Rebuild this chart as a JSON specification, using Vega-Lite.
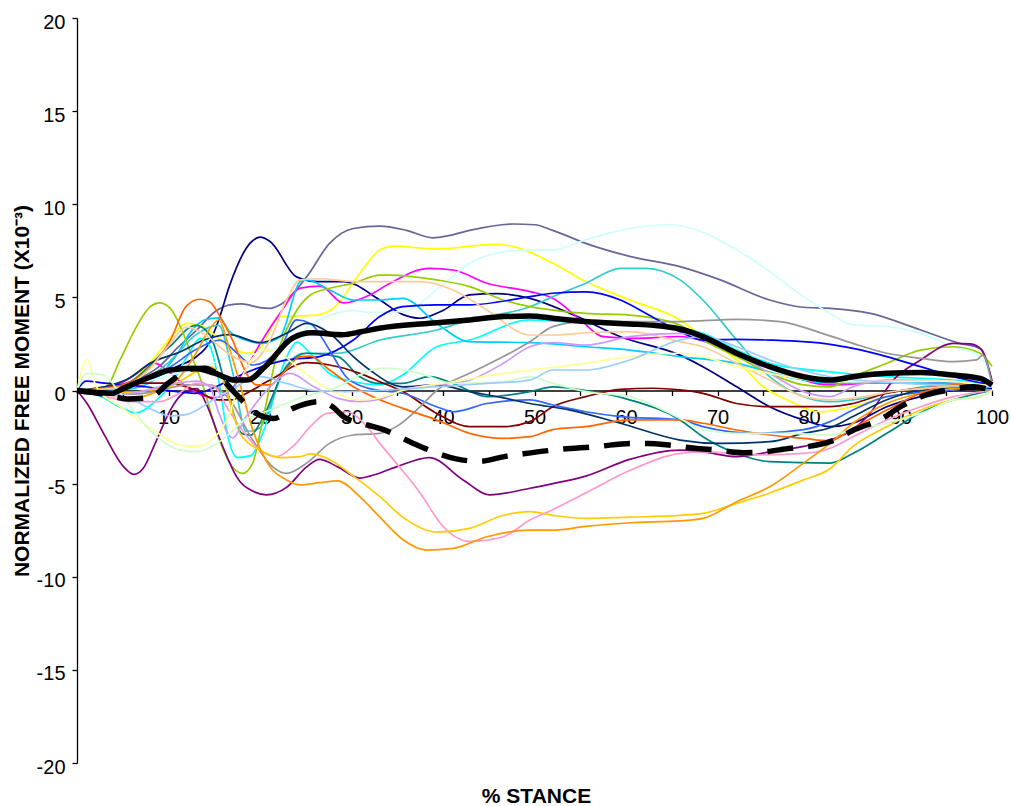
{
"$schema":"https://vega.github.io/schema/vega-lite/v6.json",
"width":915,"height":745,"autosize":"none",
"padding":{"left":77,"top":18,"right":19,"bottom":43},
"background":"white",
"config":{"view":{"stroke":null},"font":"Liberation Sans"},
"datasets":{
"thin":[
{"s":"A","x":0,"y":0},{"s":"A","x":3,"y":0.2},{"s":"A","x":6,"y":0.5},{"s":"A","x":9,"y":1.3},{"s":"A","x":11,"y":2.3},{"s":"A","x":13.1,"y":3.25},{"s":"A","x":15,"y":4.2},{"s":"A","x":16.7,"y":4.6},{"s":"A","x":18,"y":4.65},{"s":"A","x":20,"y":4.45},{"s":"A","x":21.1,"y":4.41},{"s":"A","x":22.2,"y":4.6},{"s":"A","x":25.1,"y":6.1},{"s":"A","x":27.6,"y":7.9},{"s":"A","x":30.2,"y":8.7},{"s":"A","x":33.1,"y":8.83},{"s":"A","x":36,"y":8.6},{"s":"A","x":38.9,"y":8.2},{"s":"A","x":40.5,"y":8.3},{"s":"A","x":42.9,"y":8.6},{"s":"A","x":47.7,"y":8.94},{"s":"A","x":50,"y":8.9},{"s":"A","x":52,"y":8.6},{"s":"A","x":55.6,"y":7.9},{"s":"A","x":60.4,"y":7.2},{"s":"A","x":65.9,"y":6.65},{"s":"A","x":70.3,"y":5.94},{"s":"A","x":75.7,"y":4.86},{"s":"A","x":79.4,"y":4.47},{"s":"A","x":82.3,"y":4.41},{"s":"A","x":86.7,"y":4.14},{"s":"A","x":92.2,"y":3.25},{"s":"A","x":96.5,"y":2.53},{"s":"A","x":98.7,"y":2.26},{"s":"A","x":100,"y":0.5},
{"s":"B","x":0,"y":0},{"s":"B","x":3,"y":0.1},{"s":"B","x":6,"y":0.3},{"s":"B","x":9,"y":0.8},{"s":"B","x":11,"y":1.3},{"s":"B","x":13,"y":1.8},{"s":"B","x":14.5,"y":2.6},{"s":"B","x":15.5,"y":3.8},{"s":"B","x":16.7,"y":5.67},{"s":"B","x":18.9,"y":7.9},{"s":"B","x":20,"y":8.23},{"s":"B","x":21.1,"y":8.0},{"s":"B","x":24,"y":6.1},{"s":"B","x":26.2,"y":5.85},{"s":"B","x":29.1,"y":5.85},{"s":"B","x":33.1,"y":4.86},{"s":"B","x":35.5,"y":4.1},{"s":"B","x":37.5,"y":3.88},{"s":"B","x":40,"y":4.3},{"s":"B","x":42.9,"y":5.13},{"s":"B","x":45.9,"y":5.2},{"s":"B","x":49.5,"y":4.95},{"s":"B","x":53.9,"y":4.14},{"s":"B","x":59.4,"y":2.89},{"s":"B","x":65.9,"y":1.9},{"s":"B","x":68.4,"y":1.28},{"s":"B","x":72.1,"y":0.2},{"s":"B","x":75.7,"y":-0.87},{"s":"B","x":79.4,"y":-1.58},{"s":"B","x":82.3,"y":-1.94},{"s":"B","x":84.8,"y":-1.76},{"s":"B","x":88.5,"y":-0.87},{"s":"B","x":92.2,"y":-0.33},{"s":"B","x":95.8,"y":0},{"s":"B","x":100,"y":0.1},
{"s":"C","x":0,"y":0},{"s":"C","x":3,"y":0},{"s":"C","x":6,"y":0.5},{"s":"C","x":8.5,"y":1.8},{"s":"C","x":10.5,"y":3.0},{"s":"C","x":12,"y":3.6},{"s":"C","x":13.5,"y":3.5},{"s":"C","x":15,"y":3.0},{"s":"C","x":16.5,"y":2.4},{"s":"C","x":18.6,"y":2.0},{"s":"C","x":20,"y":2.3},{"s":"C","x":22.2,"y":3.96},{"s":"C","x":26.2,"y":4.05},{"s":"C","x":28.2,"y":4.5},{"s":"C","x":30.9,"y":6.3},{"s":"C","x":33.1,"y":7.55},{"s":"C","x":34.5,"y":7.75},{"s":"C","x":39.3,"y":7.6},{"s":"C","x":45.9,"y":7.85},{"s":"C","x":48.4,"y":7.63},{"s":"C","x":52,"y":6.83},{"s":"C","x":55.6,"y":5.85},{"s":"C","x":60.4,"y":4.86},{"s":"C","x":65.9,"y":3.79},{"s":"C","x":68.4,"y":2.89},{"s":"C","x":72.1,"y":1.64},{"s":"C","x":75,"y":0.2},{"s":"C","x":77.6,"y":-0.5},{"s":"C","x":81.2,"y":-1.14},{"s":"C","x":84.8,"y":-0.87},{"s":"C","x":88.5,"y":-0.33},{"s":"C","x":95,"y":0},{"s":"C","x":100,"y":0.2},
{"s":"D","x":0,"y":0},{"s":"D","x":2.5,"y":0.1},{"s":"D","x":4.7,"y":0.38},{"s":"D","x":6.5,"y":0.9},{"s":"D","x":8.3,"y":1.5},{"s":"D","x":10.2,"y":0.94},{"s":"D","x":12,"y":0.2},{"s":"D","x":15,"y":-0.4},{"s":"D","x":17.1,"y":0.2},{"s":"D","x":18.6,"y":1.28},{"s":"D","x":20,"y":2.5},{"s":"D","x":22.2,"y":4.16},{"s":"D","x":24.4,"y":5.5},{"s":"D","x":26.6,"y":5.6},{"s":"D","x":29.1,"y":4.7},{"s":"D","x":32,"y":5.13},{"s":"D","x":34.2,"y":5.76},{"s":"D","x":38.5,"y":6.56},{"s":"D","x":41.1,"y":6.47},{"s":"D","x":44.8,"y":5.76},{"s":"D","x":49.5,"y":5.31},{"s":"D","x":52,"y":4.95},{"s":"D","x":55,"y":3.8},{"s":"D","x":57.5,"y":2.89},{"s":"D","x":61.1,"y":2.8},{"s":"D","x":65.9,"y":2.9},{"s":"D","x":70.3,"y":2.35},{"s":"D","x":75.7,"y":1.28},{"s":"D","x":82.3,"y":0.3},{"s":"D","x":90,"y":0.5},{"s":"D","x":100,"y":0.2},
{"s":"E","x":0,"y":0},{"s":"E","x":2.5,"y":-0.3},{"s":"E","x":4.7,"y":-0.9},{"s":"E","x":6.5,"y":-1.2},{"s":"E","x":8.5,"y":-0.6},{"s":"E","x":10.5,"y":0.5},{"s":"E","x":12,"y":1.8},{"s":"E","x":13.5,"y":2.8},{"s":"E","x":14.5,"y":2.4},{"s":"E","x":15.5,"y":0.5},{"s":"E","x":16.5,"y":-2.5},{"s":"E","x":17.5,"y":-3.6},{"s":"E","x":19,"y":-3.5},{"s":"E","x":20.3,"y":-2.3},{"s":"E","x":22.9,"y":1.8},{"s":"E","x":24,"y":2.6},{"s":"E","x":25.5,"y":2.0},{"s":"E","x":27.6,"y":0.9},{"s":"E","x":30.2,"y":0.47},{"s":"E","x":33.1,"y":0.3},{"s":"E","x":35.6,"y":0.83},{"s":"E","x":39.3,"y":2.35},{"s":"E","x":42.9,"y":2.71},{"s":"E","x":49.5,"y":3.79},{"s":"E","x":55.6,"y":3.6},{"s":"E","x":65.9,"y":3.34},{"s":"E","x":68.4,"y":3.07},{"s":"E","x":72.1,"y":2.17},{"s":"E","x":75.7,"y":1.46},{"s":"E","x":82.3,"y":1.0},{"s":"E","x":88.5,"y":0.74},{"s":"E","x":95.8,"y":0.56},{"s":"E","x":100,"y":0.3},
{"s":"F","x":0,"y":0},{"s":"F","x":3,"y":0},{"s":"F","x":6,"y":0.1},{"s":"F","x":9,"y":0.8},{"s":"F","x":11,"y":2.0},{"s":"F","x":12.5,"y":3.2},{"s":"F","x":14,"y":3.8},{"s":"F","x":15.5,"y":3.9},{"s":"F","x":16.7,"y":3.16},{"s":"F","x":18.5,"y":2.7},{"s":"F","x":20,"y":2.53},{"s":"F","x":22.2,"y":2.89},{"s":"F","x":24.4,"y":5.85},{"s":"F","x":25.1,"y":5.94},{"s":"F","x":27.6,"y":5.4},{"s":"F","x":30.2,"y":4.86},{"s":"F","x":33.1,"y":4.86},{"s":"F","x":35.6,"y":4.95},{"s":"F","x":39.3,"y":3.6},{"s":"F","x":42.9,"y":2.62},{"s":"F","x":49.5,"y":2.57},{"s":"F","x":55.6,"y":2.35},{"s":"F","x":60.4,"y":2.17},{"s":"F","x":65.9,"y":1.82},{"s":"F","x":72.1,"y":1.46},{"s":"F","x":77.6,"y":0.74},{"s":"F","x":82.3,"y":0.38},{"s":"F","x":90,"y":0.4},{"s":"F","x":95,"y":0.4},{"s":"F","x":100,"y":0},
{"s":"G","x":0,"y":0},{"s":"G","x":5,"y":0.2},{"s":"G","x":10,"y":0.8},{"s":"G","x":15,"y":1.5},{"s":"G","x":16.7,"y":1.82},{"s":"G","x":20,"y":2.0},{"s":"G","x":22.2,"y":2.35},{"s":"G","x":26.5,"y":3.8},{"s":"G","x":30.2,"y":4.3},{"s":"G","x":32,"y":4.2},{"s":"G","x":35.6,"y":4.23},{"s":"G","x":39.3,"y":5.4},{"s":"G","x":42.9,"y":6.83},{"s":"G","x":46.6,"y":7.45},{"s":"G","x":49.5,"y":7.55},{"s":"G","x":52,"y":7.55},{"s":"G","x":55.6,"y":8.1},{"s":"G","x":60.4,"y":8.7},{"s":"G","x":64.8,"y":8.9},{"s":"G","x":68.4,"y":8.5},{"s":"G","x":72.1,"y":7.55},{"s":"G","x":75.7,"y":6.38},{"s":"G","x":79.4,"y":5.04},{"s":"G","x":82.3,"y":4.14},{"s":"G","x":84.8,"y":3.52},{"s":"G","x":88.5,"y":3.43},{"s":"G","x":92.2,"y":3.07},{"s":"G","x":95.8,"y":2.35},{"s":"G","x":98.7,"y":1.82},{"s":"G","x":100,"y":0.5},
{"s":"H","x":0,"y":0},{"s":"H","x":5,"y":0.2},{"s":"H","x":10,"y":1.5},{"s":"H","x":13,"y":3.0},{"s":"H","x":15.5,"y":3.5},{"s":"H","x":17,"y":1.0},{"s":"H","x":18.5,"y":-2.2},{"s":"H","x":20,"y":-2.0},{"s":"H","x":21,"y":-1},{"s":"H","x":22.5,"y":1.0},{"s":"H","x":24.8,"y":2.0},{"s":"H","x":28.5,"y":2.0},{"s":"H","x":33.1,"y":2.71},{"s":"H","x":39.3,"y":3.25},{"s":"H","x":42.9,"y":3.79},{"s":"H","x":49.5,"y":4.5},{"s":"H","x":52,"y":5.04},{"s":"H","x":55.6,"y":5.76},{"s":"H","x":59.4,"y":6.56},{"s":"H","x":62.2,"y":6.56},{"s":"H","x":65.9,"y":5.94},{"s":"H","x":68.4,"y":4.86},{"s":"H","x":72.1,"y":2.71},{"s":"H","x":75.7,"y":0.74},{"s":"H","x":79.4,"y":-0.33},{"s":"H","x":82.3,"y":-0.6},{"s":"H","x":84.8,"y":-0.5},{"s":"H","x":88.5,"y":-0.15},{"s":"H","x":95,"y":0.3},{"s":"H","x":100,"y":0.3},
{"s":"I","x":0,"y":0},{"s":"I","x":5,"y":0.3},{"s":"I","x":10,"y":2.3},{"s":"I","x":13,"y":3.5},{"s":"I","x":14.5,"y":3.0},{"s":"I","x":16.4,"y":0},{"s":"I","x":18,"y":-2.3},{"s":"I","x":19,"y":-2.4},{"s":"I","x":20,"y":-1.76},{"s":"I","x":22.9,"y":1.28},{"s":"I","x":25.1,"y":2.0},{"s":"I","x":28.5,"y":1.82},{"s":"I","x":30.9,"y":0.74},{"s":"I","x":33.1,"y":0.38},{"s":"I","x":35.6,"y":0.38},{"s":"I","x":38.5,"y":0.74},{"s":"I","x":41.1,"y":0.38},{"s":"I","x":44.8,"y":-0.33},{"s":"I","x":49.5,"y":-0.06},{"s":"I","x":52,"y":0.2},{"s":"I","x":55.6,"y":0},{"s":"I","x":60.4,"y":-0.5},{"s":"I","x":65.9,"y":-1.58},{"s":"I","x":68.4,"y":-2.48},{"s":"I","x":72.1,"y":-3.38},{"s":"I","x":75.7,"y":-3.82},{"s":"I","x":82.3,"y":-3.9},{"s":"I","x":84.8,"y":-3.38},{"s":"I","x":88.5,"y":-2.3},{"s":"I","x":92.2,"y":-1.2},{"s":"I","x":95.8,"y":-0.5},{"s":"I","x":100,"y":0},
{"s":"J","x":0,"y":0},{"s":"J","x":2,"y":0.1},{"s":"J","x":3.2,"y":0.2},{"s":"J","x":4.7,"y":1.64},{"s":"J","x":6.5,"y":3.43},{"s":"J","x":8,"y":4.5},{"s":"J","x":9,"y":4.7},{"s":"J","x":10.2,"y":4.41},{"s":"J","x":11.3,"y":3.43},{"s":"J","x":12.7,"y":1.64},{"s":"J","x":13.8,"y":0.2},{"s":"J","x":15.3,"y":-2.3},{"s":"J","x":16.7,"y":-3.9},{"s":"J","x":18.1,"y":-4.45},{"s":"J","x":19.2,"y":-3.9},{"s":"J","x":20.3,"y":-1.58},{"s":"J","x":21.8,"y":1.82},{"s":"J","x":23.6,"y":3.96},{"s":"J","x":25.5,"y":5.13},{"s":"J","x":27.6,"y":5.49},{"s":"J","x":30.2,"y":5.76},{"s":"J","x":33.1,"y":6.2},{"s":"J","x":34.2,"y":6.2},{"s":"J","x":39.3,"y":5.94},{"s":"J","x":42.9,"y":5.58},{"s":"J","x":46.6,"y":4.86},{"s":"J","x":49.5,"y":4.5},{"s":"J","x":52,"y":4.32},{"s":"J","x":55.6,"y":4.14},{"s":"J","x":60.4,"y":4.05},{"s":"J","x":65.9,"y":3.52},{"s":"J","x":68.4,"y":2.71},{"s":"J","x":72.1,"y":1.82},{"s":"J","x":75.7,"y":0.92},{"s":"J","x":79.4,"y":0.3},{"s":"J","x":82.3,"y":0.2},{"s":"J","x":84.8,"y":0.74},{"s":"J","x":88.5,"y":1.46},{"s":"J","x":92.2,"y":2.17},{"s":"J","x":95.8,"y":2.35},{"s":"J","x":98.7,"y":2.0},{"s":"J","x":100,"y":1.3},
{"s":"K","x":0,"y":0},{"s":"K","x":1.1,"y":-0.7},{"s":"K","x":2.9,"y":-2.3},{"s":"K","x":5.1,"y":-4.1},{"s":"K","x":6.2,"y":-4.5},{"s":"K","x":7.2,"y":-4.2},{"s":"K","x":8.7,"y":-2.66},{"s":"K","x":10.2,"y":-1.05},{"s":"K","x":11.6,"y":-0.15},{"s":"K","x":13.1,"y":0.1},{"s":"K","x":14.2,"y":-0.8},{"s":"K","x":15.6,"y":-2.6},{"s":"K","x":16.7,"y":-3.9},{"s":"K","x":17.4,"y":-4.6},{"s":"K","x":19.2,"y":-5.4},{"s":"K","x":20.7,"y":-5.6},{"s":"K","x":22.9,"y":-5.2},{"s":"K","x":25.1,"y":-4.1},{"s":"K","x":26.5,"y":-3.7},{"s":"K","x":28.5,"y":-4.1},{"s":"K","x":30.9,"y":-4.7},{"s":"K","x":32,"y":-4.6},{"s":"K","x":34.9,"y":-4.1},{"s":"K","x":38.5,"y":-3.6},{"s":"K","x":42.2,"y":-4.8},{"s":"K","x":45.1,"y":-5.6},{"s":"K","x":49.5,"y":-5.25},{"s":"K","x":52,"y":-5.0},{"s":"K","x":55.6,"y":-4.6},{"s":"K","x":60.4,"y":-3.7},{"s":"K","x":65.9,"y":-3.2},{"s":"K","x":68.4,"y":-3.3},{"s":"K","x":72.1,"y":-3.55},{"s":"K","x":75.7,"y":-3.3},{"s":"K","x":79.4,"y":-3.0},{"s":"K","x":82.3,"y":-2.66},{"s":"K","x":84.8,"y":-2.1},{"s":"K","x":86.7,"y":-1.2},{"s":"K","x":89.2,"y":0.56},{"s":"K","x":92.2,"y":1.64},{"s":"K","x":95.8,"y":2.53},{"s":"K","x":97.6,"y":2.5},{"s":"K","x":98.9,"y":2.17},{"s":"K","x":100,"y":0.5},
{"s":"L","x":0,"y":0},{"s":"L","x":2.5,"y":0.1},{"s":"L","x":5,"y":0.3},{"s":"L","x":7.5,"y":0.4},{"s":"L","x":10,"y":0.4},{"s":"L","x":13.1,"y":0},{"s":"L","x":15.3,"y":-0.5},{"s":"L","x":17,"y":-0.5},{"s":"L","x":17.8,"y":-0.33},{"s":"L","x":21.1,"y":0.56},{"s":"L","x":25.1,"y":1.5},{"s":"L","x":27.6,"y":1.37},{"s":"L","x":30.9,"y":0.92},{"s":"L","x":33.1,"y":0.47},{"s":"L","x":35.6,"y":-0.06},{"s":"L","x":39.3,"y":-1.23},{"s":"L","x":42.9,"y":-1.94},{"s":"L","x":46.6,"y":-1.94},{"s":"L","x":49.5,"y":-1.67},{"s":"L","x":52,"y":-0.87},{"s":"L","x":55.6,"y":-0.33},{"s":"L","x":59.4,"y":0.06},{"s":"L","x":63,"y":0.12},{"s":"L","x":65.9,"y":0.03},{"s":"L","x":68.4,"y":-0.15},{"s":"L","x":72.1,"y":-0.7},{"s":"L","x":75.7,"y":-0.87},{"s":"L","x":82.3,"y":-0.87},{"s":"L","x":84.8,"y":-0.7},{"s":"L","x":88.5,"y":-0.15},{"s":"L","x":95,"y":0.2},{"s":"L","x":100,"y":0.2},
{"s":"M","x":0,"y":0},{"s":"M","x":1,"y":0.5},{"s":"M","x":3,"y":0.4},{"s":"M","x":5,"y":0.3},{"s":"M","x":7.5,"y":0.2},{"s":"M","x":10,"y":0},{"s":"M","x":13,"y":-0.15},{"s":"M","x":15.6,"y":0.3},{"s":"M","x":16.7,"y":0.56},{"s":"M","x":19.2,"y":1.1},{"s":"M","x":22.9,"y":1.64},{"s":"M","x":26.5,"y":1.82},{"s":"M","x":30.2,"y":2.71},{"s":"M","x":33.1,"y":3.97},{"s":"M","x":35.6,"y":4.5},{"s":"M","x":39.3,"y":4.6},{"s":"M","x":42.9,"y":4.6},{"s":"M","x":49.5,"y":5.04},{"s":"M","x":52,"y":5.22},{"s":"M","x":55.6,"y":5.3},{"s":"M","x":59.4,"y":4.86},{"s":"M","x":62.2,"y":4.14},{"s":"M","x":65.9,"y":3.16},{"s":"M","x":68.4,"y":2.71},{"s":"M","x":72.1,"y":2.75},{"s":"M","x":75.7,"y":2.71},{"s":"M","x":82.3,"y":2.48},{"s":"M","x":84.8,"y":2.26},{"s":"M","x":88.5,"y":1.82},{"s":"M","x":92.2,"y":1.28},{"s":"M","x":95.8,"y":0.74},{"s":"M","x":100,"y":0.3},
{"s":"N","x":0,"y":0},{"s":"N","x":5,"y":0.2},{"s":"N","x":10,"y":1.2},{"s":"N","x":13,"y":2.2},{"s":"N","x":15.6,"y":2.7},{"s":"N","x":17.5,"y":2.0},{"s":"N","x":19.2,"y":1.37},{"s":"N","x":22.2,"y":2.26},{"s":"N","x":24,"y":3.79},{"s":"N","x":25.5,"y":3.6},{"s":"N","x":27.6,"y":2.17},{"s":"N","x":29.4,"y":0.74},{"s":"N","x":31.3,"y":0.2},{"s":"N","x":33.1,"y":0},{"s":"N","x":35.6,"y":-0.15},{"s":"N","x":39.3,"y":-0.87},{"s":"N","x":41.1,"y":-1.14},{"s":"N","x":44.8,"y":-0.7},{"s":"N","x":49.5,"y":-0.5},{"s":"N","x":52,"y":-0.78},{"s":"N","x":55.6,"y":-1.14},{"s":"N","x":59.4,"y":-1.4},{"s":"N","x":65.9,"y":-1.58},{"s":"N","x":68.4,"y":-1.94},{"s":"N","x":74,"y":-2.3},{"s":"N","x":79.4,"y":-2.1},{"s":"N","x":82.3,"y":-1.67},{"s":"N","x":84.8,"y":-1.05},{"s":"N","x":88.5,"y":-0.33},{"s":"N","x":95,"y":0},{"s":"N","x":100,"y":0.2},
{"s":"O","x":0,"y":0},{"s":"O","x":3,"y":0.2},{"s":"O","x":5.5,"y":0.6},{"s":"O","x":8,"y":1.46},{"s":"O","x":11.3,"y":2.08},{"s":"O","x":13.8,"y":2.7},{"s":"O","x":16.7,"y":3.0},{"s":"O","x":20,"y":2.57},{"s":"O","x":22.9,"y":3.07},{"s":"O","x":25.1,"y":3.6},{"s":"O","x":27.6,"y":3.07},{"s":"O","x":30.2,"y":1.82},{"s":"O","x":32,"y":1.1},{"s":"O","x":35.6,"y":0.2},{"s":"O","x":39.3,"y":0.3},{"s":"O","x":42.9,"y":-0.06},{"s":"O","x":46.6,"y":-0.4},{"s":"O","x":49.5,"y":-0.7},{"s":"O","x":53.9,"y":-1.05},{"s":"O","x":59.4,"y":-1.76},{"s":"O","x":65.9,"y":-2.66},{"s":"O","x":70.3,"y":-2.84},{"s":"O","x":75.7,"y":-2.75},{"s":"O","x":79.4,"y":-2.3},{"s":"O","x":82.3,"y":-2.0},{"s":"O","x":84.8,"y":-1.4},{"s":"O","x":88.5,"y":-0.5},{"s":"O","x":92.2,"y":0},{"s":"O","x":100,"y":0.2},
{"s":"P","x":0,"y":0},{"s":"P","x":3,"y":-0.2},{"s":"P","x":6,"y":-0.2},{"s":"P","x":9,"y":0},{"s":"P","x":12,"y":0.3},{"s":"P","x":14.5,"y":0.3},{"s":"P","x":16.7,"y":-0.5},{"s":"P","x":19.2,"y":-2.66},{"s":"P","x":21.4,"y":-4.1},{"s":"P","x":22.9,"y":-4.45},{"s":"P","x":25.1,"y":-3.9},{"s":"P","x":27.6,"y":-2.84},{"s":"P","x":30.2,"y":-2.39},{"s":"P","x":33.1,"y":-2.3},{"s":"P","x":34.9,"y":-1.94},{"s":"P","x":37.5,"y":-0.87},{"s":"P","x":39.3,"y":0},{"s":"P","x":42.9,"y":0.92},{"s":"P","x":46.6,"y":1.82},{"s":"P","x":49.5,"y":2.62},{"s":"P","x":52,"y":3.43},{"s":"P","x":55.6,"y":3.7},{"s":"P","x":60.4,"y":3.7},{"s":"P","x":65.9,"y":3.7},{"s":"P","x":72.1,"y":3.82},{"s":"P","x":76.8,"y":3.7},{"s":"P","x":82.3,"y":2.93},{"s":"P","x":84.8,"y":2.53},{"s":"P","x":88.5,"y":2.0},{"s":"P","x":92.2,"y":1.73},{"s":"P","x":95.8,"y":1.55},{"s":"P","x":98.3,"y":1.64},{"s":"P","x":99,"y":1.9},{"s":"P","x":100,"y":0.3},
{"s":"Q","x":0,"y":0},{"s":"Q","x":3,"y":-0.3},{"s":"Q","x":6,"y":-0.6},{"s":"Q","x":9,"y":-0.6},{"s":"Q","x":11,"y":-0.2},{"s":"Q","x":13,"y":0.38},{"s":"Q","x":15,"y":0.2},{"s":"Q","x":16.5,"y":-1.0},{"s":"Q","x":17.8,"y":-1.94},{"s":"Q","x":20,"y":-3.2},{"s":"Q","x":21.8,"y":-3.55},{"s":"Q","x":23.6,"y":-3.0},{"s":"Q","x":25.5,"y":-1.94},{"s":"Q","x":27.3,"y":-1.23},{"s":"Q","x":29.4,"y":-1.14},{"s":"Q","x":31.7,"y":-1.94},{"s":"Q","x":33.1,"y":-2.84},{"s":"Q","x":34.9,"y":-3.9},{"s":"Q","x":37.5,"y":-5.5},{"s":"Q","x":40,"y":-7.3},{"s":"Q","x":42.9,"y":-8.1},{"s":"Q","x":46.6,"y":-7.85},{"s":"Q","x":49.5,"y":-6.95},{"s":"Q","x":52,"y":-6.4},{"s":"Q","x":55.6,"y":-5.5},{"s":"Q","x":60.4,"y":-4.3},{"s":"Q","x":65.9,"y":-3.38},{"s":"Q","x":68.4,"y":-3.3},{"s":"Q","x":74,"y":-3.46},{"s":"Q","x":79.4,"y":-3.38},{"s":"Q","x":82.3,"y":-3.1},{"s":"Q","x":84.8,"y":-2.48},{"s":"Q","x":88.5,"y":-1.58},{"s":"Q","x":92.2,"y":-0.87},{"s":"Q","x":95.8,"y":-0.33},{"s":"Q","x":100,"y":0},
{"s":"R","x":0,"y":0},{"s":"R","x":5,"y":-0.1},{"s":"R","x":10,"y":0.2},{"s":"R","x":13,"y":1.0},{"s":"R","x":14.5,"y":1.3},{"s":"R","x":16,"y":0.5},{"s":"R","x":17.8,"y":-2.3},{"s":"R","x":20,"y":-3.2},{"s":"R","x":22.2,"y":-3.6},{"s":"R","x":24.4,"y":-3.55},{"s":"R","x":25.5,"y":-3.4},{"s":"R","x":27.6,"y":-3.7},{"s":"R","x":30.2,"y":-4.6},{"s":"R","x":33.1,"y":-5.7},{"s":"R","x":35.6,"y":-6.8},{"s":"R","x":39.3,"y":-7.6},{"s":"R","x":42.9,"y":-7.4},{"s":"R","x":46.6,"y":-6.7},{"s":"R","x":49.5,"y":-6.5},{"s":"R","x":52,"y":-6.7},{"s":"R","x":55.6,"y":-6.87},{"s":"R","x":60.4,"y":-6.8},{"s":"R","x":65.9,"y":-6.7},{"s":"R","x":68.4,"y":-6.6},{"s":"R","x":72.1,"y":-6.06},{"s":"R","x":75.7,"y":-5.5},{"s":"R","x":79.4,"y":-4.8},{"s":"R","x":82.3,"y":-4.2},{"s":"R","x":84.8,"y":-3.0},{"s":"R","x":88.5,"y":-1.94},{"s":"R","x":92.2,"y":-1.05},{"s":"R","x":95.8,"y":-0.5},{"s":"R","x":98.7,"y":-0.33},{"s":"R","x":100,"y":0},
{"s":"S","x":0,"y":0},{"s":"S","x":3,"y":-0.2},{"s":"S","x":6,"y":-0.4},{"s":"S","x":9,"y":0},{"s":"S","x":11,"y":0.6},{"s":"S","x":13,"y":2.0},{"s":"S","x":14.5,"y":3.3},{"s":"S","x":15.5,"y":3.8},{"s":"S","x":16.5,"y":2.5},{"s":"S","x":17.8,"y":0.38},{"s":"S","x":19.2,"y":-2.1},{"s":"S","x":21.1,"y":-4.1},{"s":"S","x":22.9,"y":-4.8},{"s":"S","x":24.4,"y":-5.07},{"s":"S","x":26.5,"y":-4.95},{"s":"S","x":28.5,"y":-4.85},{"s":"S","x":30.9,"y":-5.7},{"s":"S","x":33.1,"y":-6.8},{"s":"S","x":35.6,"y":-8.0},{"s":"S","x":38.2,"y":-8.57},{"s":"S","x":41.1,"y":-8.48},{"s":"S","x":44.8,"y":-7.85},{"s":"S","x":49.5,"y":-7.5},{"s":"S","x":52,"y":-7.5},{"s":"S","x":55.6,"y":-7.3},{"s":"S","x":60.4,"y":-7.1},{"s":"S","x":65.9,"y":-7.0},{"s":"S","x":68.4,"y":-6.87},{"s":"S","x":72.1,"y":-5.97},{"s":"S","x":75.7,"y":-5.17},{"s":"S","x":79.4,"y":-3.9},{"s":"S","x":82.3,"y":-2.84},{"s":"S","x":84.8,"y":-1.76},{"s":"S","x":88.5,"y":-0.7},{"s":"S","x":92.2,"y":-0.15},{"s":"S","x":95.8,"y":0.1},{"s":"S","x":100,"y":0.2},
{"s":"T","x":0,"y":0},{"s":"T","x":2.5,"y":0.1},{"s":"T","x":5,"y":0.3},{"s":"T","x":7.5,"y":1.0},{"s":"T","x":10.2,"y":2.7},{"s":"T","x":11.9,"y":4.5},{"s":"T","x":13.4,"y":4.9},{"s":"T","x":14.5,"y":4.77},{"s":"T","x":15.6,"y":4.0},{"s":"T","x":17,"y":2.7},{"s":"T","x":18.5,"y":0.92},{"s":"T","x":19.6,"y":0.3},{"s":"T","x":21.1,"y":0.3},{"s":"T","x":22.5,"y":0.92},{"s":"T","x":24.4,"y":1.82},{"s":"T","x":25.5,"y":1.85},{"s":"T","x":27.6,"y":1.1},{"s":"T","x":30.2,"y":0.2},{"s":"T","x":33.1,"y":-0.5},{"s":"T","x":35.6,"y":-0.96},{"s":"T","x":39.3,"y":-1.58},{"s":"T","x":42.9,"y":-2.3},{"s":"T","x":46.6,"y":-2.57},{"s":"T","x":49.5,"y":-2.48},{"s":"T","x":52,"y":-2.1},{"s":"T","x":55.6,"y":-1.94},{"s":"T","x":60.4,"y":-1.58},{"s":"T","x":65.9,"y":-1.58},{"s":"T","x":68.4,"y":-1.76},{"s":"T","x":72.1,"y":-2.12},{"s":"T","x":75.7,"y":-2.39},{"s":"T","x":79.4,"y":-2.57},{"s":"T","x":82.3,"y":-2.7},{"s":"T","x":84.8,"y":-2.03},{"s":"T","x":88.5,"y":-1.05},{"s":"T","x":92.2,"y":-0.15},{"s":"T","x":95.8,"y":0.3},{"s":"T","x":100,"y":0.2},
{"s":"U","x":0,"y":0},{"s":"U","x":5,"y":0.2},{"s":"U","x":8,"y":1.2},{"s":"U","x":10,"y":2.4},{"s":"U","x":12,"y":3.4},{"s":"U","x":14,"y":3.0},{"s":"U","x":16.5,"y":2.0},{"s":"U","x":19,"y":1.5},{"s":"U","x":21.1,"y":2.71},{"s":"U","x":22.9,"y":4.86},{"s":"U","x":24.4,"y":5.94},{"s":"U","x":26.5,"y":6.0},{"s":"U","x":30.2,"y":5.85},{"s":"U","x":37.5,"y":5.85},{"s":"U","x":41.1,"y":5.4},{"s":"U","x":44.8,"y":4.32},{"s":"U","x":49.5,"y":2.98},{"s":"U","x":52,"y":2.98},{"s":"U","x":55.6,"y":3.1},{"s":"U","x":60.4,"y":3.16},{"s":"U","x":65.9,"y":2.62},{"s":"U","x":68.4,"y":2.35},{"s":"U","x":72.1,"y":1.46},{"s":"U","x":75.7,"y":0.56},{"s":"U","x":79.4,"y":-0.33},{"s":"U","x":82.3,"y":-0.5},{"s":"U","x":85,"y":-0.4},{"s":"U","x":90,"y":0},{"s":"U","x":100,"y":0.3},
{"s":"V","x":0,"y":0},{"s":"V","x":5,"y":-0.2},{"s":"V","x":10,"y":0.3},{"s":"V","x":13,"y":0.5},{"s":"V","x":14.5,"y":0.2},{"s":"V","x":15.5,"y":-1.2},{"s":"V","x":17,"y":-2.55},{"s":"V","x":18.5,"y":-1.4},{"s":"V","x":21.1,"y":0.2},{"s":"V","x":23.3,"y":0.92},{"s":"V","x":25.9,"y":0.2},{"s":"V","x":28.5,"y":-0.42},{"s":"V","x":30.9,"y":-0.6},{"s":"V","x":33.1,"y":-0.47},{"s":"V","x":35.6,"y":0.03},{"s":"V","x":39.3,"y":0.3},{"s":"V","x":42.9,"y":0.56},{"s":"V","x":46.6,"y":1.46},{"s":"V","x":49.5,"y":2.35},{"s":"V","x":52,"y":2.57},{"s":"V","x":55.6,"y":2.44},{"s":"V","x":60.4,"y":2.89},{"s":"V","x":65.9,"y":3.07},{"s":"V","x":68.4,"y":2.89},{"s":"V","x":72.1,"y":2.0},{"s":"V","x":75.7,"y":0.92},{"s":"V","x":79.4,"y":-0.06},{"s":"V","x":82.3,"y":-0.33},{"s":"V","x":84.8,"y":0.2},{"s":"V","x":88.5,"y":0.56},{"s":"V","x":95,"y":0.5},{"s":"V","x":100,"y":0.2},
{"s":"W","x":0,"y":0},{"s":"W","x":1.1,"y":1.67},{"s":"W","x":2.1,"y":0.2},{"s":"W","x":4.7,"y":-0.87},{"s":"W","x":8.3,"y":-2.1},{"s":"W","x":11.3,"y":-2.93},{"s":"W","x":13.1,"y":-3.0},{"s":"W","x":14.9,"y":-2.57},{"s":"W","x":16.7,"y":-1.2},{"s":"W","x":17.6,"y":0.2},{"s":"W","x":18.6,"y":1.28},{"s":"W","x":20.5,"y":2.2},{"s":"W","x":22.2,"y":2.0},{"s":"W","x":24,"y":1.3},{"s":"W","x":27,"y":0.2},{"s":"W","x":30.9,"y":-0.5},{"s":"W","x":33,"y":-0.4},{"s":"W","x":35.6,"y":0},{"s":"W","x":41.1,"y":0.47},{"s":"W","x":46.6,"y":0.92},{"s":"W","x":49.5,"y":1.1},{"s":"W","x":55.6,"y":1.46},{"s":"W","x":60.4,"y":1.82},{"s":"W","x":65.9,"y":2.0},{"s":"W","x":68.4,"y":1.82},{"s":"W","x":72.1,"y":1.28},{"s":"W","x":75.7,"y":0.92},{"s":"W","x":82.3,"y":0.47},{"s":"W","x":95,"y":0.5},{"s":"W","x":100,"y":0.2},
{"s":"X","x":0,"y":0},{"s":"X","x":1.1,"y":0.92},{"s":"X","x":2.9,"y":0.83},{"s":"X","x":4.7,"y":-0.15},{"s":"X","x":8.3,"y":-2.3},{"s":"X","x":11.3,"y":-3.2},{"s":"X","x":13.1,"y":-3.28},{"s":"X","x":15.3,"y":-2.84},{"s":"X","x":16.7,"y":-2.3},{"s":"X","x":17.8,"y":-1.76},{"s":"X","x":21.1,"y":-1.05},{"s":"X","x":24.8,"y":-0.33},{"s":"X","x":28.5,"y":0.2},{"s":"X","x":31.3,"y":0.92},{"s":"X","x":33.1,"y":1.19},{"s":"X","x":34.2,"y":1.19},{"s":"X","x":37.5,"y":0.92},{"s":"X","x":41.1,"y":0.38},{"s":"X","x":46.6,"y":0.47},{"s":"X","x":49.5,"y":0.74},{"s":"X","x":52,"y":0.38},{"s":"X","x":55.6,"y":-0.06},{"s":"X","x":60.4,"y":-0.33},{"s":"X","x":65.9,"y":-1.5},{"s":"X","x":68.4,"y":-2.1},{"s":"X","x":72.1,"y":-2.3},{"s":"X","x":77.6,"y":-2.3},{"s":"X","x":82.3,"y":-2.39},{"s":"X","x":84.8,"y":-2.1},{"s":"X","x":88.5,"y":-1.76},{"s":"X","x":92.2,"y":-1.23},{"s":"X","x":95.8,"y":-0.5},{"s":"X","x":98.7,"y":-0.33},{"s":"X","x":100,"y":0},
{"s":"Y","x":0,"y":0},{"s":"Y","x":3,"y":-0.2},{"s":"Y","x":6,"y":-0.5},{"s":"Y","x":8.3,"y":-1.05},{"s":"Y","x":10.2,"y":-1.37},{"s":"Y","x":11.9,"y":-1.3},{"s":"Y","x":14.9,"y":-0.5},{"s":"Y","x":16.7,"y":0},{"s":"Y","x":20,"y":0.74},{"s":"Y","x":22.9,"y":0.38},{"s":"Y","x":25.9,"y":0},{"s":"Y","x":29.4,"y":-0.06},{"s":"Y","x":33.1,"y":0},{"s":"Y","x":39.3,"y":0.2},{"s":"Y","x":44.8,"y":0.38},{"s":"Y","x":49.5,"y":0.56},{"s":"Y","x":52,"y":1.1},{"s":"Y","x":55.6,"y":1.1},{"s":"Y","x":60.4,"y":1.64},{"s":"Y","x":65.9,"y":2.71},{"s":"Y","x":68.4,"y":2.89},{"s":"Y","x":72.1,"y":2.35},{"s":"Y","x":75.7,"y":1.64},{"s":"Y","x":82.3,"y":0.74},{"s":"Y","x":90,"y":0.4},{"s":"Y","x":100,"y":0.2}
],
"mean":[
{"x":0,"y":0},{"x":2,"y":-0.1},{"x":3.8,"y":-0.15},{"x":5,"y":0.1},{"x":7.2,"y":0.56},{"x":10.2,"y":1.1},{"x":12.7,"y":1.2},{"x":15,"y":0.94},{"x":17.3,"y":0.56},{"x":18.6,"y":0.56},{"x":20.6,"y":1.3},{"x":23.5,"y":2.8},{"x":25.7,"y":3.1},{"x":29,"y":3.0},{"x":31,"y":3.15},{"x":33,"y":3.34},{"x":39.3,"y":3.64},{"x":42.9,"y":3.79},{"x":46.6,"y":3.97},{"x":49.5,"y":4.0},{"x":52,"y":3.88},{"x":55.6,"y":3.7},{"x":60.4,"y":3.57},{"x":63,"y":3.5},{"x":65.9,"y":3.3},{"x":68.4,"y":2.89},{"x":72.1,"y":2.0},{"x":75.7,"y":1.28},{"x":79.4,"y":0.74},{"x":82.3,"y":0.56},{"x":84.8,"y":0.74},{"x":88.5,"y":0.92},{"x":92.2,"y":0.96},{"x":95.8,"y":0.83},{"x":98.7,"y":0.65},{"x":100,"y":0.3}
],
"dash":[
{"x":0,"y":0},{"x":3,"y":-0.2},{"x":5.5,"y":-0.45},{"x":8,"y":-0.37},{"x":10,"y":0.4},{"x":12.5,"y":1.15},{"x":14,"y":1.2},{"x":15,"y":1.0},{"x":17.3,"y":-0.15},{"x":19.5,"y":-1.2},{"x":21.5,"y":-1.5},{"x":23.6,"y":-0.96},{"x":26.5,"y":-0.6},{"x":28,"y":-0.9},{"x":29.1,"y":-1.4},{"x":31.7,"y":-1.85},{"x":33.5,"y":-2.1},{"x":36.6,"y":-2.8},{"x":38.5,"y":-3.2},{"x":41.7,"y":-3.7},{"x":44,"y":-3.8},{"x":46.7,"y":-3.55},{"x":48.8,"y":-3.4},{"x":52,"y":-3.2},{"x":57,"y":-3.0},{"x":60.5,"y":-2.84},{"x":62.4,"y":-2.84},{"x":65,"y":-2.95},{"x":67.5,"y":-3.1},{"x":70,"y":-3.2},{"x":72.8,"y":-3.34},{"x":75,"y":-3.3},{"x":78,"y":-3.1},{"x":80,"y":-3.0},{"x":82.3,"y":-2.75},{"x":85,"y":-2.1},{"x":88,"y":-1.5},{"x":90,"y":-0.87},{"x":92.8,"y":-0.24},{"x":95,"y":0},{"x":98,"y":0.2},{"x":100,"y":0}
]
},
"encoding":{
"x":{"field":"x","type":"quantitative","scale":{"domain":[0,100],"nice":false,"zero":false},
 "axis":{"title":"% STANCE","orient":"bottom","offset":-372.5,"values":[5,10,15,20,25,30,35,40,45,50,55,60,65,70,75,80,85,90,95,100],
 "labelExpr":"datum.value % 10 === 0 ? datum.label : ''","grid":false,"domainColor":"black","domainWidth":1.3,"tickColor":"black","tickSize":5,"tickWidth":1.3,
 "labelFont":"Liberation Sans","labelFontSize":20,"labelColor":"black","labelBaseline":"alphabetic","labelPadding":27.5,"labelFlush":false,"labelOverlap":false,
 "titleFont":"Liberation Sans","titleFontSize":21,"titleFontWeight":"bold","titleColor":"black","titleX":459,"titleY":411.5,"titleBaseline":"alphabetic","titleAlign":"center","titleAnchor":null}},
"y":{"field":"y","type":"quantitative","scale":{"domain":[-20,20],"nice":false},
 "axis":{"title":"NORMALIZED FREE MOMENT (X10⁻³)","values":[-20,-15,-10,-5,0,5,10,15,20],"labelExpr":"replace(datum.label, '−', '-')","grid":false,"domainColor":"black","domainWidth":1.3,"tickColor":"black","tickSize":5,"tickWidth":1.3,
 "labelFont":"Liberation Sans","labelFontSize":20,"labelColor":"black","labelPadding":7,"labelBaseline":"alphabetic","labelOffset":10,"labelFlush":false,"labelOverlap":false,
 "titleFont":"Liberation Sans","titleFontSize":21,"titleFontWeight":"bold","titleColor":"black","titleX":-55,"titleY":372.5,"titleAlign":"center","titleBaseline":"middle","titleAngle":270}}
},
"layer":[
{"data":{"name":"thin"},"mark":{"type":"line","strokeWidth":1.7,"interpolate":"monotone"},
 "encoding":{"color":{"field":"s","type":"nominal","legend":null,
  "scale":{"domain":["A","B","C","D","E","F","G","H","I","J","K","L","M","N","O","P","Q","R","S","T","U","V","W","X","Y"],
  "range":["#666699","#000080","#FFFF00","#FF00FF","#00FFFF","#00CCFF","#CCFFFF","#33CCCC","#008080","#99CC00","#800080","#800000","#0000FF","#3366FF","#003366","#969696","#FF99CC","#FFCC00","#FF9900","#FF6600","#FFCC99","#CC99FF","#FFFF99","#CCFFCC","#99CCFF"]}}}},
{"data":{"name":"mean"},"mark":{"type":"line","color":"black","strokeWidth":5.5,"interpolate":"monotone"},"encoding":{}},
{"data":{"name":"dash"},"mark":{"type":"line","color":"black","strokeWidth":5.5,"strokeDash":[26,15],"interpolate":"monotone"},"encoding":{}}
]
}
